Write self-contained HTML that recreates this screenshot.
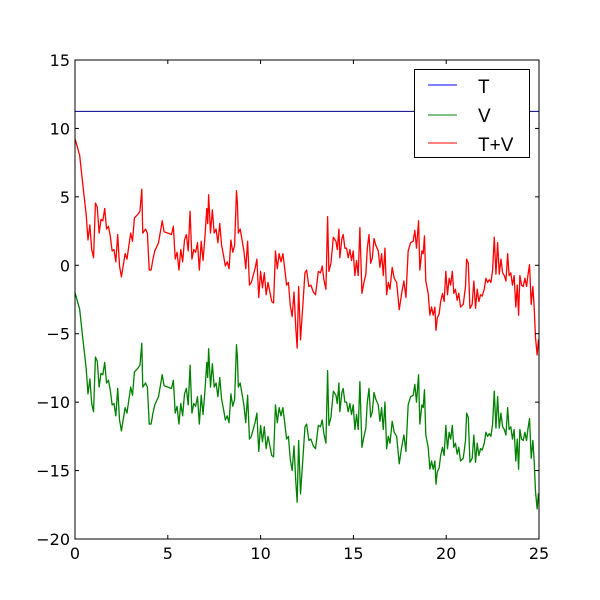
<!DOCTYPE html>
<html><head><meta charset="utf-8"><style>
body{margin:0;background:#fff}
svg{display:block;font-family:"Liberation Sans",sans-serif}
</style></head><body>
<svg id="chart" width="600" height="600" viewBox="0 0 600 600">
<rect width="600" height="600" fill="#fff"/>
<g id="plot"></g>
<g id="axes"></g>
<g>
<rect x="414.5" y="69.5" width="115" height="88" fill="#fff" stroke="#000" stroke-width="1"/>
<line x1="428" y1="85" x2="457" y2="85" stroke="#0000ff" stroke-width="1"/>
<text x="478" y="93" font-size="19">T</text>
<line x1="428" y1="115" x2="457" y2="115" stroke="#008000" stroke-width="1"/>
<text x="478" y="122" font-size="19">V</text>
<line x1="428" y1="143" x2="457" y2="143" stroke="#ff0000" stroke-width="1"/>
<text x="478" y="151" font-size="19">T+V</text>
</g>
</svg>
<script>
const xVals = [0,0.25,0.4,0.5,0.6,0.7,0.8,0.9,1.0,1.1,1.2,1.3,1.4,1.5,1.6,1.7,1.8,1.9,2.0,2.1,2.2,2.3,2.4,2.5,2.7,2.8,3.0,3.1,3.2,3.4,3.5,3.6,3.65,3.8,3.9,4.0,4.1,4.2,4.3,4.5,4.7,4.8,5.0,5.2,5.3,5.4,5.5,5.6,5.7,5.8,5.9,6.0,6.1,6.2,6.3,6.4,6.5,6.6,6.7,6.8,6.9,7.0,7.1,7.15,7.2,7.3,7.4,7.5,7.6,7.7,7.8,7.9,8.0,8.1,8.2,8.3,8.4,8.5,8.6,8.7,8.75,8.8,8.9,9.0,9.1,9.2,9.3,9.4,9.5,9.7,9.8,9.9,10.0,10.1,10.2,10.3,10.4,10.5,10.6,10.7,10.8,10.9,11.0,11.1,11.2,11.3,11.4,11.5,11.6,11.7,11.8,11.9,11.97,12.05,12.15,12.26,12.39,12.48,12.6,12.71,12.84,12.96,13.11,13.23,13.32,13.41,13.52,13.61,13.68,13.79,13.92,14.06,14.13,14.22,14.27,14.38,14.45,14.54,14.63,14.72,14.81,14.9,14.99,15.08,15.17,15.26,15.35,15.46,15.57,15.67,15.75,15.84,15.93,16.02,16.11,16.21,16.34,16.43,16.52,16.61,16.7,16.79,16.88,16.97,17.09,17.2,17.33,17.47,17.6,17.72,17.83,17.95,18.08,18.22,18.31,18.4,18.51,18.58,18.69,18.76,18.83,18.9,19.03,19.12,19.21,19.3,19.39,19.45,19.52,19.62,19.7,19.8,19.89,19.98,20.07,20.16,20.24,20.33,20.41,20.5,20.59,20.68,20.77,20.92,21.04,21.1,21.19,21.28,21.4,21.49,21.58,21.67,21.76,21.85,21.94,22.05,22.14,22.23,22.32,22.41,22.5,22.59,22.68,22.77,22.86,22.95,23.04,23.13,23.22,23.31,23.39,23.48,23.57,23.66,23.75,23.83,23.9,23.97,24.06,24.15,24.24,24.33,24.4,24.49,24.58,24.67,24.74,24.81,24.9,24.97,25];
const vVals = [-2.0,-3.2,-5.1,-6.3,-7.5,-9.4,-8.3,-10.1,-10.7,-6.7,-7.0,-8.9,-7.9,-8.0,-7.1,-8.6,-8.4,-9.1,-10.2,-10.1,-11.0,-9.0,-11.3,-12.1,-10.4,-10.8,-8.9,-9.5,-7.8,-7.5,-7.3,-5.7,-8.9,-8.6,-8.9,-11.6,-11.6,-10.8,-10.2,-9.6,-8.0,-8.8,-8.9,-9.0,-8.4,-10.8,-10.3,-11.6,-10.1,-11.0,-9.4,-9.0,-10.2,-7.3,-10.8,-10.1,-10.3,-9.6,-11.6,-9.5,-10.9,-9.2,-7.1,-8.2,-6.1,-8.9,-7.2,-8.9,-8.6,-9.6,-8.2,-9.8,-10.5,-11.3,-11.0,-11.5,-9.4,-10.3,-9.8,-5.8,-6.7,-8.9,-8.6,-9.4,-10.2,-11.5,-9.5,-12.7,-12.5,-11.5,-10.8,-13.6,-11.7,-12.9,-11.8,-13.4,-12.5,-13.2,-13.9,-14.0,-10.2,-11.5,-10.4,-11.0,-10.4,-11.5,-12.7,-12.5,-14.2,-15.0,-13.2,-15.9,-17.3,-12.8,-16.7,-14.5,-11.8,-11.6,-12.8,-12.7,-13.2,-13.4,-11.7,-11.8,-11.3,-12.3,-13.0,-7.7,-11.7,-11.1,-9.2,-9.5,-10.1,-8.6,-10.7,-9.3,-9.0,-10.0,-10.0,-10.7,-10.1,-10.9,-10.2,-12.0,-10.9,-12.0,-8.5,-13.3,-12.5,-11.9,-10.0,-9.0,-11.1,-10.7,-9.3,-9.8,-10.2,-11.4,-10.4,-12.0,-10.0,-13.4,-12.5,-13.0,-11.4,-12.2,-12.5,-14.5,-13.3,-12.4,-13.6,-10.2,-9.6,-9.5,-8.7,-10.0,-8.0,-11.6,-10.2,-10.4,-9.1,-12.4,-13.3,-14.9,-14.3,-14.9,-14.3,-16.0,-15.1,-14.8,-13.9,-13.3,-13.9,-11.7,-13.4,-12.2,-12.7,-11.7,-13.3,-13.0,-13.8,-13.3,-14.3,-14.1,-12.8,-10.8,-11.1,-14.4,-14.1,-12.4,-14.4,-13.0,-13.9,-13.4,-13.5,-13.0,-12.2,-12.5,-12.3,-12.5,-11.6,-9.2,-11.9,-9.6,-11.9,-10.8,-11.8,-12.0,-12.4,-10.4,-12.0,-11.8,-12.7,-12.0,-14.3,-12.7,-14.9,-12.0,-12.7,-12.8,-12.2,-12.8,-12.0,-11.2,-14.1,-12.8,-14.3,-16.5,-17.8,-16.7,-16.7];
const tValue = 11.25;
const xTicks = [0,5,10,15,20,25];
const yTicks = [-20,-15,-10,-5,0,5,10,15];

const L=75,R=539,Tp=60,B=539;
const xMin=0,xMax=25,yMin=-20,yMax=15;
function sx(x){return L+(x-xMin)/(xMax-xMin)*(R-L);}
function sy(y){return B-(y-yMin)/(yMax-yMin)*(B-Tp);}
const NS="http://www.w3.org/2000/svg";
const plot=document.getElementById('plot'), axes=document.getElementById('axes');
function mk(tag,attrs,parent){const e=document.createElementNS(NS,tag);for(const k in attrs)e.setAttribute(k,attrs[k]);parent.appendChild(e);return e;}
function fmt(t){return t<0?'\u2212'+Math.abs(t):String(t);}

const clip=mk('clipPath',{id:'clp'},plot);
mk('rect',{x:L,y:Tp,width:R-L,height:B-Tp},clip);
const g=mk('g',{'clip-path':'url(#clp)'},plot);

const tLine=mk('line',{x1:sx(xMin),x2:sx(xMax),y1:sy(tValue),y2:sy(tValue),stroke:'#00008b','stroke-width':1},g);



const vPath=mk('polyline',{points:xVals.map((x,i)=>sx(x)+','+sy(vVals[i])).join(' '),fill:'none',stroke:'#008000','stroke-width':1.3,'stroke-linejoin':'round'},g);



const tvPath=mk('polyline',{points:xVals.map((x,i)=>sx(x)+','+sy(vVals[i]+tValue)).join(' '),fill:'none',stroke:'#ff0000','stroke-width':1.3,'stroke-linejoin':'round'},g);



const frame=mk('rect',{x:L,y:Tp,width:R-L,height:B-Tp,fill:'none',stroke:'#000','stroke-width':1},axes);



xTicks.forEach(t=>{
  const x=sx(t);
  mk('line',{x1:x,x2:x,y1:B,y2:B-4,stroke:'#000'},axes);
  mk('line',{x1:x,x2:x,y1:Tp,y2:Tp+4,stroke:'#000'},axes);
  const tx=mk('text',{x:x,y:B+20,'font-size':16,'text-anchor':'middle','font-family':'DejaVu Sans, sans-serif'},axes);
  tx.textContent=fmt(t);
  
  
});
yTicks.forEach(t=>{
  const y=sy(t);
  mk('line',{x1:L,x2:L+4,y1:y,y2:y,stroke:'#000'},axes);
  mk('line',{x1:R,x2:R-4,y1:y,y2:y,stroke:'#000'},axes);
  const tx=mk('text',{x:L-5,y:y+6,'font-size':16,'text-anchor':'end','font-family':'DejaVu Sans, sans-serif'},axes);
  tx.textContent=fmt(t);
  
  
});
</script>
</body></html>
